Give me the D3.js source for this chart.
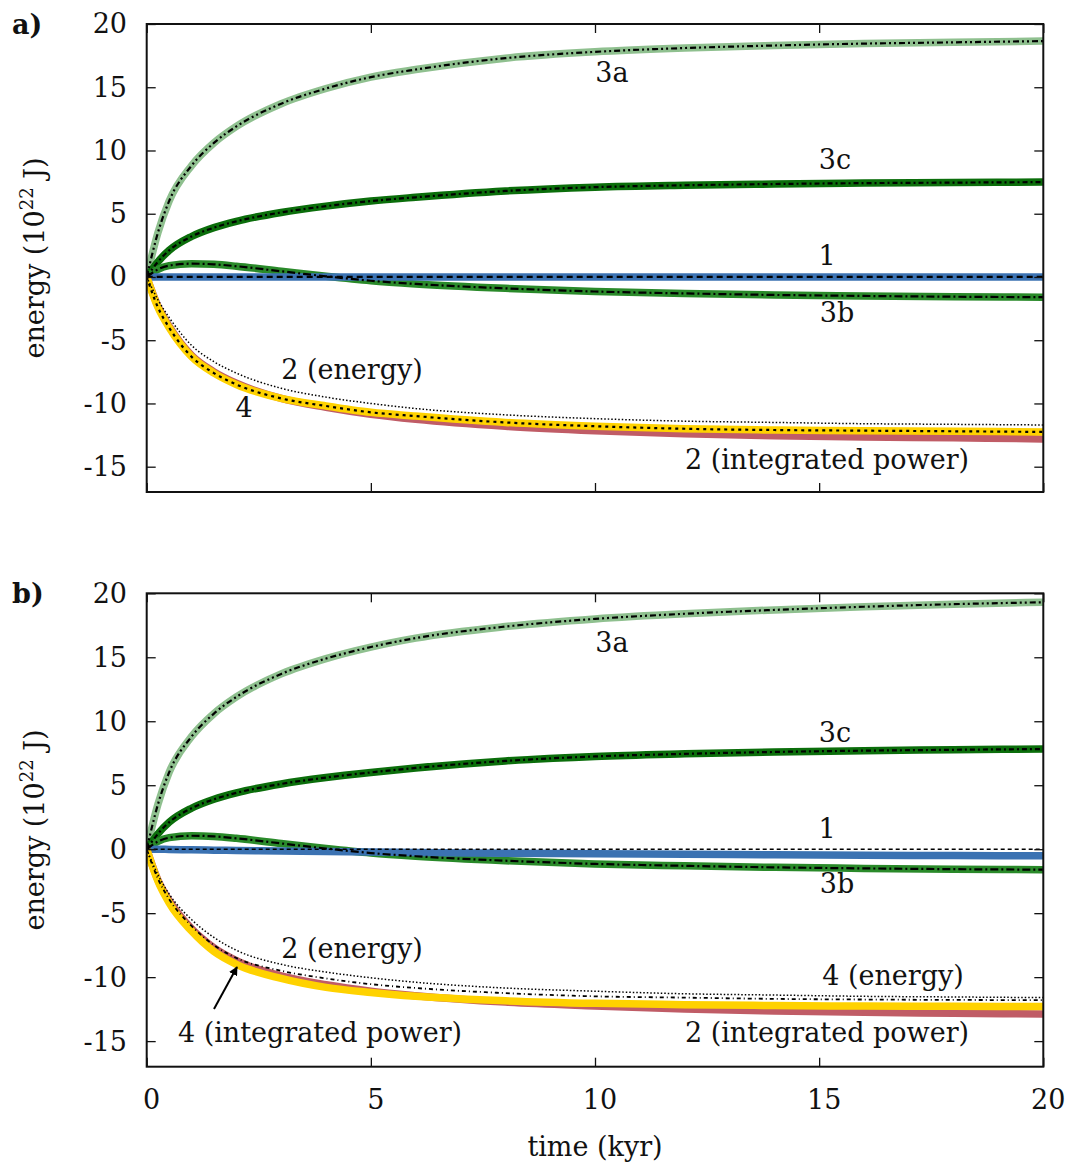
<!DOCTYPE html>
<html>
<head>
<meta charset="utf-8">
<script src="https://cdn.jsdelivr.net/npm/d3@7"></script>
<style>
  body { margin: 0; background: #fff; }
  text { font-family: "DejaVu Serif", serif; fill: #111; }
</style>
</head>
<body>
<svg id="chart" width="1073" height="1169"></svg>
<script>
// time grid (kyr)
var times = [0, 0.25, 0.5, 1, 1.5, 2, 3, 4, 5, 6, 8, 10, 12, 14, 16, 18, 20];
var xTicks = [0, 5, 10, 15, 20];
var yTicks = [20, 15, 10, 5, 0, -5, -10, -15];

// panel a) values, 10^22 J
var a3a = [0, 3.5, 6.0, 8.8, 10.6, 11.9, 13.7, 14.9, 15.8, 16.4, 17.3, 17.8, 18.1, 18.3, 18.45, 18.55, 18.65];
var a3c = [0, 1.2, 2.1, 3.2, 3.9, 4.4, 5.1, 5.6, 6.0, 6.3, 6.8, 7.1, 7.25, 7.35, 7.42, 7.46, 7.5];
var a3b = [0, 0.6, 0.9, 1.05, 1.0, 0.85, 0.45, 0.05, -0.3, -0.55, -0.9, -1.15, -1.3, -1.42, -1.5, -1.56, -1.6];
var a1 = [0, 0, 0, 0, 0, 0, 0, 0, 0, 0, 0, 0, 0, 0, 0, 0, 0];
var a2power = [0, -2.3, -3.9, -6.2, -7.5, -8.4, -9.6, -10.3, -10.85, -11.25, -11.8, -12.15, -12.4, -12.55, -12.65, -12.72, -12.8];
var a4 = [0, -2.4, -4.0, -6.3, -7.6, -8.5, -9.6, -10.2, -10.7, -11.0, -11.5, -11.8, -12.0, -12.1, -12.15, -12.2, -12.25];
var a2energy = [0, -1.8, -3.2, -5.4, -6.7, -7.6, -8.8, -9.5, -10.0, -10.4, -10.9, -11.2, -11.4, -11.5, -11.6, -11.65, -11.7];

// panel b) values, 10^22 J
var b3a = [0, 3.5, 6.0, 8.8, 10.6, 11.9, 13.7, 14.9, 15.8, 16.5, 17.4, 18.0, 18.4, 18.7, 18.95, 19.15, 19.3];
var b3c = [0, 1.2, 2.1, 3.2, 3.9, 4.4, 5.1, 5.6, 6.0, 6.35, 6.9, 7.25, 7.45, 7.6, 7.7, 7.77, 7.83];
var b3b = [0, 0.6, 0.9, 1.05, 1.0, 0.85, 0.45, 0.05, -0.3, -0.55, -0.9, -1.15, -1.3, -1.42, -1.5, -1.56, -1.6];
var b1power = [0, 0, -0.02, -0.05, -0.08, -0.1, -0.14, -0.18, -0.21, -0.25, -0.31, -0.36, -0.4, -0.44, -0.47, -0.5, -0.52];
var b1energy = [0, 0, 0, 0, 0, 0, 0, 0, 0, 0, 0, 0, 0, 0, 0, 0, 0];
var b2power = [0, -2.4, -4.0, -6.2, -7.7, -8.7, -9.9, -10.6, -11.1, -11.45, -11.95, -12.25, -12.5, -12.65, -12.75, -12.82, -12.88];
var b4power = [0, -2.5, -4.2, -6.4, -8.0, -9.0, -10.1, -10.8, -11.2, -11.5, -11.85, -12.05, -12.15, -12.22, -12.26, -12.28, -12.3];
var b4energy = [0, -2.3, -3.9, -6.0, -7.5, -8.5, -9.5, -10.1, -10.55, -10.85, -11.25, -11.5, -11.6, -11.7, -11.75, -11.78, -11.8];
var b2energy = [0, -2.0, -3.5, -5.5, -6.9, -7.9, -9.0, -9.6, -10.05, -10.4, -10.85, -11.1, -11.3, -11.4, -11.5, -11.55, -11.6];

var col = {
  g3a: "#8fc08f", g3c: "#0b6e0b", g3b: "#2a8a2a",
  blue: "#3b72b2", red: "#c05c66", yellow: "#ffd200"
};

var svg = d3.select("#chart");
var x = d3.scaleLinear().domain([0, 20]).range([146.7, 1043.3]);

function band(vals, color, w) { return {vals: vals, color: color, w: w || 7.5, dash: null}; }
function over(vals, dash, w) { return {vals: vals, color: "#000", w: w || 2.2, dash: dash}; }

var panels = [
  {
    name: "a)", top: 24, bottom: 492, xlabels: false,
    layers: [
      band(a3a, col.g3a), band(a3c, col.g3c), band(a3b, col.g3b), band(a1, col.blue),
      band(a2power, col.red), band(a4, col.yellow),
      over(a3a, "6,3,2,3,2,3"), over(a3c, "5,3,2,3"), over(a3b, "8,3,2,3"),
      over(a1, "6,4"), over(a4, "3,4"), over(a2energy, "1.5,2", 1.5)
    ],
    labels: [
      ["3a", 612, 73], ["3c", 835, 160], ["1", 827, 256], ["3b", 837, 313],
      ["2 (energy)", 352, 370], ["4", 244, 408], ["2 (integrated power)", 827, 460]
    ]
  },
  {
    name: "b)", top: 593.3, bottom: 1066.7, xlabels: true,
    layers: [
      band(b3a, col.g3a), band(b3c, col.g3c), band(b3b, col.g3b), band(b1power, col.blue),
      band(b2power, col.red), band(b4power, col.yellow),
      over(b3a, "6,3,2,3,2,3"), over(b3c, "5,3,2,3"), over(b3b, "8,3,2,3"),
      over(b1energy, "4,3", 1.5), over(b4energy, "4,3,1,3", 1.8), over(b2energy, "1.5,2", 1.5)
    ],
    labels: [
      ["3a", 612, 643], ["3c", 835, 733], ["1", 827, 829], ["3b", 837, 884],
      ["2 (energy)", 352, 949], ["4 (energy)", 893, 976],
      ["4 (integrated power)", 320, 1033], ["2 (integrated power)", 827, 1033]
    ],
    arrow: [214, 1009, 237, 967]
  }
];

svg.append("defs").append("marker")
  .attr("id", "head").attr("viewBox", "0 0 10 10")
  .attr("refX", 9).attr("refY", 5)
  .attr("markerWidth", 9).attr("markerHeight", 9)
  .attr("markerUnits", "userSpaceOnUse")
  .attr("orient", "auto")
  .append("path").attr("d", "M0,0 L10,5 L0,10 z").attr("fill", "#000");

panels.forEach(function(p, pi) {
  var y = d3.scaleLinear().domain([-17, 20]).range([p.bottom, p.top]);
  var g = svg.append("g");
  var clipId = "clip" + pi;
  svg.select("defs").append("clipPath").attr("id", clipId)
    .append("rect").attr("x", x(0)).attr("y", p.top)
    .attr("width", x(20) - x(0)).attr("height", p.bottom - p.top);

  var line = d3.line()
    .x(function(d, i) { return x(times[i]); })
    .y(function(d) { return y(d); })
    .curve(d3.curveMonotoneX);

  var plot = g.append("g").attr("clip-path", "url(#" + clipId + ")");
  p.layers.forEach(function(l) {
    plot.append("path")
      .datum(l.vals)
      .attr("d", line)
      .attr("fill", "none")
      .attr("stroke", l.color)
      .attr("stroke-width", l.w)
      .attr("stroke-dasharray", l.dash)
      .attr("stroke-linejoin", "round");
  });

  // ticks, mirrored on all four sides, pointing inward
  var axL = d3.axisLeft(y).tickValues(yTicks).tickSizeInner(-9).tickSizeOuter(0).tickFormat("");
  var axR = d3.axisRight(y).tickValues(yTicks).tickSizeInner(-9).tickSizeOuter(0).tickFormat("");
  var axB = d3.axisBottom(x).tickValues(xTicks).tickSizeInner(-9).tickSizeOuter(0).tickFormat("");
  var axT = d3.axisTop(x).tickValues(xTicks).tickSizeInner(-9).tickSizeOuter(0).tickFormat("");
  [[axL, "translate(" + x(0) + ",0)"], [axR, "translate(" + x(20) + ",0)"],
   [axB, "translate(0," + p.bottom + ")"], [axT, "translate(0," + p.top + ")"]].forEach(function(a) {
    var ag = g.append("g").attr("transform", a[1]).call(a[0]);
    ag.select(".domain").remove();
    ag.selectAll("line").attr("stroke", "#111").attr("stroke-width", 1.3);
  });

  g.append("rect")
    .attr("x", x(0)).attr("y", p.top)
    .attr("width", x(20) - x(0)).attr("height", p.bottom - p.top)
    .attr("fill", "none").attr("stroke", "#111").attr("stroke-width", 2);

  g.selectAll(".ylab").data(yTicks).enter().append("text")
    .attr("x", 127).attr("y", function(d) { return y(d); })
    .attr("dy", "0.35em").attr("text-anchor", "end")
    .attr("font-size", 27).text(function(d) { return d; });

  if (p.xlabels) {
    g.selectAll(".xlab").data(xTicks).enter().append("text")
      .attr("x", function(d) { return x(d) + 5; }).attr("y", p.bottom + 42)
      .attr("text-anchor", "middle").attr("font-size", 27)
      .text(function(d) { return d; });
  }

  var yt = g.append("text")
    .attr("transform", "translate(44," + ((p.top + p.bottom) / 2) + ") rotate(-90)")
    .attr("text-anchor", "middle").attr("font-size", 27);
  yt.append("tspan").text("energy (10");
  yt.append("tspan").attr("font-size", 18).attr("dy", -11).text("22");
  yt.append("tspan").attr("dy", 11).text(" J)");

  g.append("text").attr("x", 12).attr("y", p.top + 10)
    .attr("font-size", 27).attr("font-weight", "bold").text(p.name);

  g.selectAll(".clab").data(p.labels).enter().append("text")
    .attr("x", function(d) { return d[1]; }).attr("y", function(d) { return d[2]; })
    .attr("dy", "0.35em").attr("text-anchor", "middle").attr("font-size", 27)
    .text(function(d) { return d[0]; });

  if (p.arrow) {
    g.append("line")
      .attr("x1", p.arrow[0]).attr("y1", p.arrow[1])
      .attr("x2", p.arrow[2]).attr("y2", p.arrow[3])
      .attr("stroke", "#000").attr("stroke-width", 2)
      .attr("marker-end", "url(#head)");
  }
});

svg.append("text").attr("x", 595).attr("y", 1147).attr("dy", "0.35em")
  .attr("text-anchor", "middle").attr("font-size", 27).text("time (kyr)");
</script>
</body>
</html>
